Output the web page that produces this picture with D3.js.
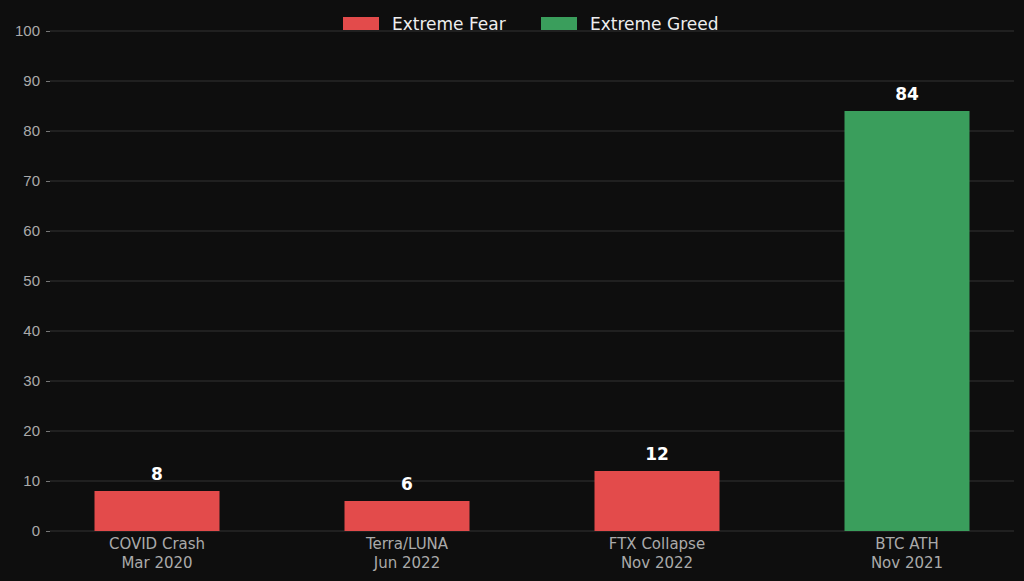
<!DOCTYPE html>
<html><head><meta charset="utf-8">
<script src="https://cdn.jsdelivr.net/npm/d3@7"></script>
<style>body{margin:0;background:#0e0e0e;}svg{display:block;font-family:"DejaVu Sans",sans-serif;}</style>
</head><body><svg id="chart" width="1024" height="581"></svg>
<script>
var categories = ['COVID Crash|Mar 2020', 'Terra/LUNA|Jun 2022', 'FTX Collapse|Nov 2022', 'BTC ATH|Nov 2021'];
var values = [8, 6, 12, 84];
var kinds = ['fear', 'fear', 'fear', 'greed'];
var yTicks = [0, 10, 20, 30, 40, 50, 60, 70, 80, 90, 100];
var legendItems = [{key: 'fear', label: 'Extreme Fear'}, {key: 'greed', label: 'Extreme Greed'}];

var COLORS = {fear: '#e34b4b', greed: '#3a9e5c'};
var svg = d3.select('#chart');
svg.append('rect').attr('width', 1024).attr('height', 581).attr('fill', '#0e0e0e');

var x = d3.scaleBand().domain(categories).range([32, 1032]).paddingInner(0.5).paddingOuter(0.25);
var y = d3.scaleLinear().domain([0, 100]).range([531, 31]);

// gridlines
svg.append('g').selectAll('line').data(yTicks).enter().append('line')
  .attr('x1', 50).attr('x2', 1014)
  .attr('y1', function (d) { return y(d); }).attr('y2', function (d) { return y(d); })
  .attr('stroke', '#333').attr('stroke-width', 1);

var yAxis = svg.append('g').attr('transform', 'translate(50,0)')
  .call(d3.axisLeft(y).tickValues(yTicks).tickSize(4).tickPadding(6));
yAxis.select('.domain').remove();
yAxis.selectAll('line').attr('stroke', '#777');
yAxis.selectAll('text').attr('fill', '#aaa').style('font-size', '15px');

svg.append('g').selectAll('rect').data(values).enter().append('rect')
  .attr('x', function (d, i) { return x(categories[i]); })
  .attr('width', x.bandwidth())
  .attr('y', function (d) { return y(d); })
  .attr('height', function (d) { return y(0) - y(d); })
  .attr('fill', function (d, i) { return COLORS[kinds[i]]; });

svg.append('g').selectAll('text').data(values).enter().append('text')
  .attr('x', function (d, i) { return x(categories[i]) + x.bandwidth() / 2; })
  .attr('y', function (d) { return y(d) - 11; })
  .attr('text-anchor', 'middle').attr('fill', '#fff')
  .style('font-size', '17px').style('font-weight', 'bold')
  .text(function (d) { return d; });

var xl = svg.append('g').selectAll('text').data(categories).enter().append('text')
  .attr('x', function (d) { return x(d) + x.bandwidth() / 2; })
  .attr('text-anchor', 'middle').attr('fill', '#aaa').style('font-size', '15px');
xl.each(function (d) {
  var parts = d.split('|');
  d3.select(this).append('tspan').attr('x', d3.select(this).attr('x')).attr('y', 549).text(parts[0]);
  d3.select(this).append('tspan').attr('x', d3.select(this).attr('x')).attr('y', 568).text(parts[1]);
});

// legend
var leg = svg.append('g');
var lx = [343, 541];
legendItems.forEach(function (it, i) {
  leg.append('rect').attr('x', lx[i]).attr('y', 17).attr('width', 36).attr('height', 13).attr('fill', COLORS[it.key]);
  leg.append('text').attr('x', lx[i] + 49).attr('y', 30).attr('fill', '#eee')
    .style('font-size', '17px').text(it.label);
});
</script></body></html>
